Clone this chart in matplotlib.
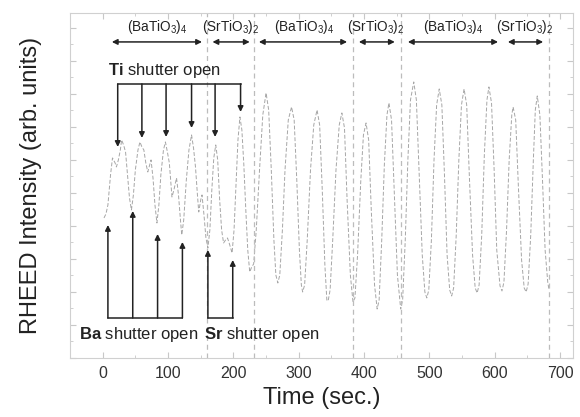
import matplotlib
matplotlib.use("Agg")
import matplotlib.pyplot as plt
from matplotlib.ticker import MultipleLocator, NullFormatter

plt.rcParams['font.family'] = ['Liberation Sans', 'DejaVu Sans']
plt.rcParams['mathtext.fontset'] = 'custom'
plt.rcParams['mathtext.rm'] = 'Liberation Sans'
plt.rcParams['mathtext.it'] = 'Liberation Sans:italic'
plt.rcParams['mathtext.bf'] = 'Liberation Sans:bold'

# RHEED trace (time in s, intensity in arb. units)
time = [2, 5, 8, 12, 15, 19, 21, 24, 27, 29, 32, 35, 38, 41, 44, 47, 50, 54, 57, 60,
        63, 66, 69, 72, 74, 77, 80, 83, 86, 89, 93, 96, 99, 102, 104, 106, 109, 113, 116, 119,
        121, 124, 128, 132, 136, 139, 142, 145, 147, 150, 152, 155, 158, 161, 164, 167, 170, 173, 176, 179,
        182, 185, 188, 191, 194, 198, 201, 204, 207, 210, 213, 216, 219, 222, 225, 228, 231, 235, 240, 245,
        250, 254, 258, 262, 265, 268, 271, 275, 279, 284, 289, 293, 297, 301, 304, 306, 309, 313, 318, 323,
        328, 332, 336, 340, 343, 345, 348, 352, 357, 362, 366, 370, 374, 379, 383, 386, 390, 395, 399, 403,
        407, 411, 416, 420, 423, 427, 431, 435, 438, 442, 446, 451, 456, 459, 463, 467, 471, 476, 480, 484,
        489, 493, 496, 499, 503, 507, 511, 515, 519, 523, 527, 531, 534, 537, 541, 545, 549, 553, 557, 561,
        566, 570, 573, 576, 580, 584, 588, 591, 595, 599, 603, 608, 611, 614, 618, 622, 626, 628, 632, 636,
        641, 645, 648, 651, 655, 659, 662, 665, 669, 673, 677, 681, 683]
intensity = [140, 144, 153, 183, 200, 195, 191, 198, 208, 218, 213, 206, 183, 160, 148, 163, 188, 208, 216, 211,
             208, 195, 186, 193, 198, 180, 153, 135, 153, 183, 208, 216, 206, 195, 178, 161, 168, 180, 163, 138,
             123, 138, 178, 208, 223, 210, 191, 163, 146, 158, 163, 143, 120, 110, 128, 168, 200, 213, 198, 158,
             128, 115, 118, 120, 114, 105, 128, 173, 218, 241, 228, 193, 148, 108, 86, 91, 94, 128, 188, 243,
             265, 248, 188, 118, 83, 75, 83, 128, 188, 238, 251, 238, 178, 108, 73, 66, 73, 118, 188, 233,
             248, 233, 168, 93, 58, 57, 68, 118, 188, 233, 245, 230, 158, 83, 56, 60, 103, 178, 223, 235,
             218, 148, 73, 49, 58, 118, 193, 243, 255, 238, 168, 83, 49, 58, 118, 198, 258, 276, 258, 188,
             103, 66, 60, 68, 118, 198, 253, 269, 253, 183, 103, 68, 62, 70, 123, 198, 253, 269, 253, 183,
             103, 70, 65, 73, 123, 203, 258, 271, 255, 188, 108, 72, 67, 76, 128, 198, 243, 251, 238, 173,
             98, 70, 66, 74, 123, 198, 248, 262, 243, 178, 108, 76, 68]

# interface positions (dashed lines)
boundaries = [159, 231, 383, 456, 683]

# layer labels on top
layer_labels = [r'(BaTiO$_3$)$_4$', r'(SrTiO$_3$)$_2$', r'(BaTiO$_3$)$_4$',
                r'(SrTiO$_3$)$_2$', r'(BaTiO$_3$)$_4$', r'(SrTiO$_3$)$_2$']
layer_start = [14, 168, 239, 392, 467, 620]
layer_end = [152, 225, 374, 447, 605, 674]
label_x = [83, 196, 308, 418, 537, 646]

# shutter arrows
ti_times = [23, 60, 97, 136, 172, 211]
ti_tips = [211, 220, 221, 230, 221, 246]
ba_times = [8, 46, 84, 122]
ba_tips = [133, 147, 124, 116]
sr_times = [161, 199]
sr_tips = [108, 98]

fig = plt.figure(figsize=(5.8, 4.17), dpi=100)
ax = fig.add_axes([0.1207, 0.1415, 0.9883 - 0.1207, 0.969 - 0.1415])

ax.plot(time, intensity, color='#a6a6a6', lw=0.7, ls=(0, (4, 2)))

for b in boundaries:
    ax.axvline(b, color='#bcbcbc', lw=0.9, ls=(0, (4, 3)))

akw = dict(arrowstyle='-|>', color='#222222', lw=1.1, mutation_scale=8, shrinkA=0, shrinkB=0)
dkw = dict(arrowstyle='<|-|>', color='#222222', lw=1.1, mutation_scale=8, shrinkA=0, shrinkB=0)

top_y = 316
for s, e, lx, lab in zip(layer_start, layer_end, label_x, layer_labels):
    ax.annotate('', xy=(e, top_y), xytext=(s, top_y), arrowprops=dkw)
    ax.text(lx, 331, lab, ha='center', va='center', fontsize=9.8, color='#222222')

# Ti shutter bracket
ti_y = 274
ax.plot([ti_times[0], ti_times[-1]], [ti_y, ti_y], color='#222222', lw=1.1)
for t, tip in zip(ti_times, ti_tips):
    ax.annotate('', xy=(t, tip), xytext=(t, ti_y), arrowprops=akw)
ax.text(8, 287, r'$\mathbf{Ti}$ shutter open', fontsize=12, va='center', ha='left', color='#222222')

# Ba / Sr shutter brackets
low_y = 40
ax.plot([ba_times[0], ba_times[-1]], [low_y, low_y], color='#222222', lw=1.1)
for t, tip in zip(ba_times, ba_tips):
    ax.annotate('', xy=(t, tip), xytext=(t, low_y), arrowprops=akw)
ax.plot([sr_times[0], sr_times[-1]], [low_y, low_y], color='#222222', lw=1.1)
for t, tip in zip(sr_times, sr_tips):
    ax.annotate('', xy=(t, tip), xytext=(t, low_y), arrowprops=akw)
ax.text(-36, 23, r'$\mathbf{Ba}$ shutter open', fontsize=12, va='center', ha='left', color='#222222')
ax.text(155, 23, r'$\mathbf{Sr}$ shutter open', fontsize=12, va='center', ha='left', color='#222222')

ax.set_xlim(-50, 720)
ax.set_ylim(0, 345)
ax.xaxis.set_major_locator(MultipleLocator(100))
ax.xaxis.set_minor_locator(MultipleLocator(50))
ax.yaxis.set_major_locator(MultipleLocator(33))
ax.yaxis.set_minor_locator(MultipleLocator(16.5))
ax.yaxis.set_major_formatter(NullFormatter())
ax.tick_params(which='both', direction='in', top=True, right=True, color='#c8c8c8',
               labelsize=11.5, labelcolor='#333333', pad=6)
ax.tick_params(which='major', length=4)
ax.tick_params(which='minor', length=2)
for sp in ax.spines.values():
    sp.set_color('#d0d0d0')
    sp.set_linewidth(0.8)

ax.set_xlabel('Time (sec.)', fontsize=17, color='#222222', labelpad=4)
ax.set_ylabel('RHEED Intensity (arb. units)', fontsize=17, color='#222222', labelpad=14)

fig.savefig('out.png', dpi=100)
